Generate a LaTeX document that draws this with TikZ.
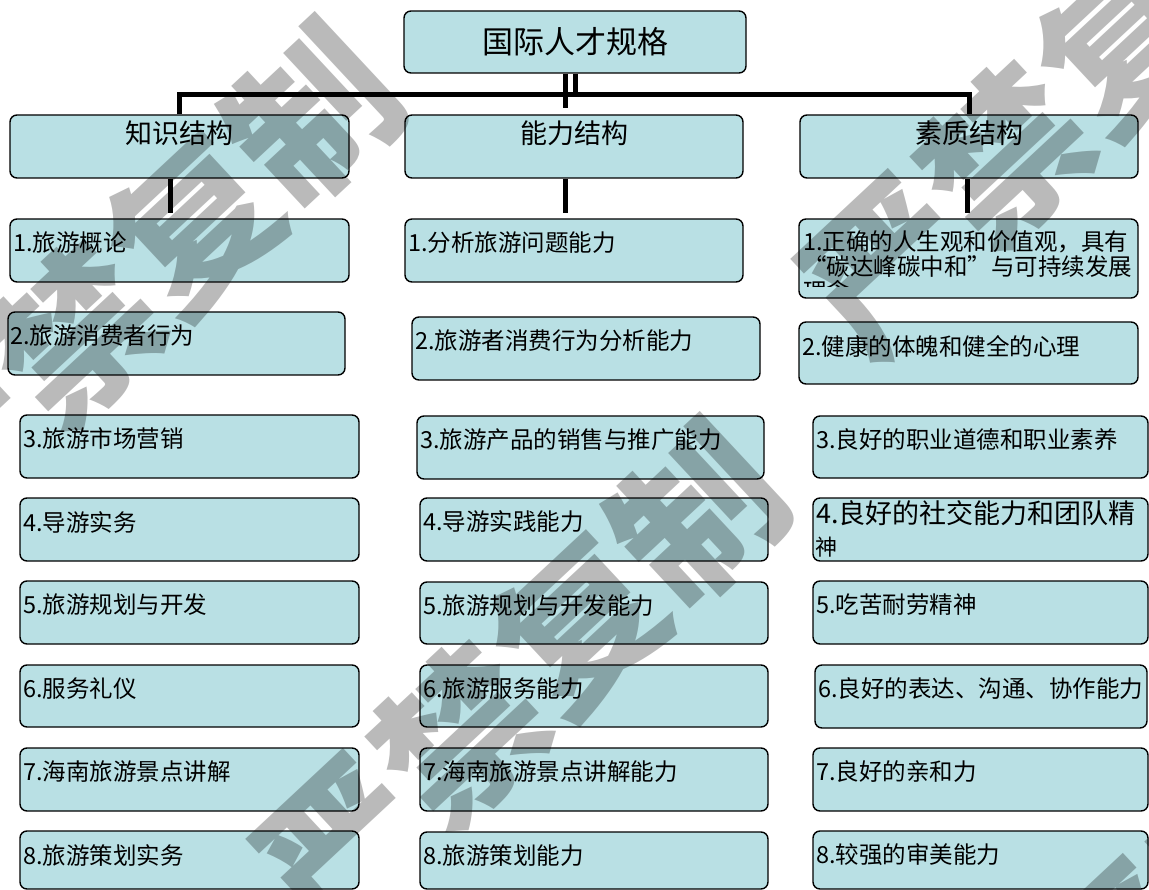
\documentclass[tikz,border=0pt]{standalone}
\usepackage{fontspec}
\setmainfont{Noto Sans CJK SC}
\usetikzlibrary{fit,calc}
\definecolor{boxfill}{RGB}{185,224,228}
\tikzset{
  bx/.style={draw=black, line width=1.4pt, fill=boxfill, rounded corners=7pt, inner sep=0pt},
  itxt/.style={inner sep=0pt, anchor=west, font=\fontsize{23.5}{25}\selectfont},
  htxt/.style={inner sep=0pt, font=\fontsize{27}{29}\selectfont},
  conn/.style={line width=5pt},
  wm/.style={font=\fontsize{162}{162}\selectfont\bfseries, text=black, opacity=0.27, rotate=43, inner sep=0pt},
}
\newcommand\itembox[7]{%
  \node[bx, fit={(#2,#3)(#4,#5)}] (#1) {};
  \node[itxt] (#1t) at ({#6},{#3+24}) {#7};
}
\begin{document}
\begin{tikzpicture}[x=1pt,y=-1pt]
\useasboundingbox (0,0) rectangle (1149,890);

% top
\node[bx, fit={(404,11)(746,73)}] (top) {};
\node[inner sep=0pt, font=\fontsize{31}{33}\selectfont] (topt) at (top.center) {国际人才规格};

% level 2
\node[bx, fit={(10,115)(349,178)}] (kn) {};
\node[htxt] (knt) at ([yshift=-19pt]kn.north) {知识结构};
\node[bx, fit={(405,115)(743,178)}] (ab) {};
\node[htxt] (abt) at ([yshift=-19pt]ab.north) {能力结构};
\node[bx, fit={(800,115)(1138,178)}] (qu) {};
\node[htxt] (qut) at ([yshift=-19pt]qu.north) {素质结构};

% connectors
\coordinate (hL) at (180,95);
\coordinate (b1) at (565,108);
\draw[conn] (top.south) -- (top.south |- hL);
\draw[conn] (top.south -| b1) -- (b1);
\draw[conn] (kn.north) -- (kn.north |- hL) -- (qu.north |- hL) -- (qu.north);
\coordinate (knd) at (170,213);
\coordinate (abd) at (565,213);
\coordinate (qud) at (967,213);
\draw[conn] (kn.south -| knd) -- (knd);
\draw[conn] (ab.south -| abd) -- (abd);
\draw[conn] (qu.south -| qud) -- (qud);

% knowledge column
\itembox{k1}{10}{219}{349}{282}{13}{1.旅游概论}
\itembox{k2}{8}{312}{345}{375}{10}{2.旅游消费者行为}
\itembox{k3}{20}{415}{359}{478}{23}{3.旅游市场营销}
\itembox{k4}{20}{498}{359}{561}{23}{4.导游实务}
\itembox{k5}{20}{581}{359}{644}{23}{5.旅游规划与开发}
\itembox{k6}{20}{665}{359}{727}{23}{6.服务礼仪}
\itembox{k7}{20}{748}{359}{811}{23}{7.海南旅游景点讲解}
\itembox{k8}{20}{831}{359}{889}{23}{8.旅游策划实务}

% ability column
\itembox{a1}{405}{219}{743}{282}{408}{1.分析旅游问题能力}
\itembox{a2}{412}{317}{760}{380}{415}{2.旅游者消费行为分析能力}
\itembox{a3}{417}{416}{764}{479}{420}{3.旅游产品的销售与推广能力}
\itembox{a4}{420}{498}{768}{561}{423}{4.导游实践能力}
\itembox{a5}{420}{582}{768}{644}{423}{5.旅游规划与开发能力}
\itembox{a6}{420}{665}{768}{727}{423}{6.旅游服务能力}
\itembox{a7}{420}{748}{768}{811}{423}{7.海南旅游景点讲解能力}
\itembox{a8}{420}{832}{768}{889}{423}{8.旅游策划能力}

% quality column
\node[bx, fit={(799,219)(1138,298)}] (q1) {};
\begin{scope}
  \clip (q1.north west) rectangle (1138,287);
  \node[inner sep=0pt, anchor=north west, align=left, font=\fontsize{23.5}{25}\selectfont] (q1t) at (803,230) {1.正确的人生观和价值观，具有\\“碳达峰碳中和”与可持续发展\\理念};
\end{scope}
\itembox{q2}{799}{322}{1138}{384}{802}{2.健康的体魄和健全的心理}
\itembox{q3}{813}{416}{1148}{478}{816}{3.良好的职业道德和职业素养}
\node[bx, fit={(813,498)(1148,561)}] (q4) {};
\node[itxt, font=\fontsize{27}{28}\selectfont] (q4t) at (816,513) {4.良好的社交能力和团队精};
\node[itxt, font=\fontsize{22}{24}\selectfont] (q4u) at (815,547) {神};
\itembox{q5}{813}{581}{1148}{644}{816}{5.吃苦耐劳精神}
\itembox{q6}{815}{665}{1147}{728}{818}{6.良好的表达、沟通、协作能力}
\itembox{q7}{813}{748}{1148}{811}{816}{7.良好的亲和力}
\itembox{q8}{813}{831}{1148}{889}{816}{8.较强的审美能力}

% watermark
\begin{scope}
  \clip (0,0) rectangle (1149,890);
  \node[wm] (wm1) at (135,280) {严禁复制};
  \node[wm] (wm2) at (520,680) {严禁复制};
  \node[wm] (wm3) at (1065,100) {严禁复制};
  \node[wm] (wm4) at (1300,785) {严禁复制};
\end{scope}
\end{tikzpicture}
\end{document}
